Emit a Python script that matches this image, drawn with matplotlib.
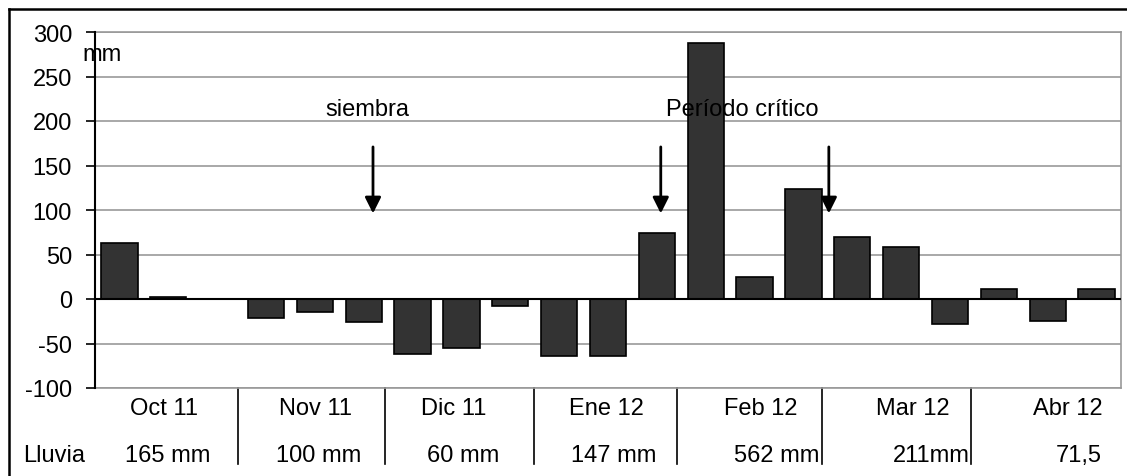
import matplotlib.pyplot as plt
from matplotlib.lines import Line2D

plt.rcParams['font.family'] = ['Liberation Sans', 'DejaVu Sans']

# decadal balance (mm), 3 per month
values = [63, 2, 0,
          -21, -15, -26,
          -62, -55, -8,
          -64, -64, 74,
          288, 25, 124,
          70, 58, -28,
          11, -25, 11]
months = ["Oct 11", "Nov 11", "Dic 11", "Ene 12", "Feb 12", "Mar 12", "Abr 12"]
rain = ["165 mm", "100 mm", "60 mm", "147 mm", "562 mm", "211mm", "71,5"]
yticks = [-100, -50, 0, 50, 100, 150, 200, 250, 300]

FS = 17
W, H = 1127, 477
fig = plt.figure(figsize=(W / 100, H / 100), dpi=100)
ax = fig.add_axes([95 / W, 1 - 389 / H, (1121 - 95) / W, (389 - 33) / H])

x = list(range(len(values)))
ax.bar(x, values, width=0.74, color="#333333", edgecolor="black", linewidth=1.2, zorder=3)

ax.set_xlim(-0.5, len(values) - 0.5)
ax.set_ylim(-100, 300)
ax.set_yticks(yticks)
ax.set_yticklabels([str(v) for v in yticks], fontsize=FS)
ax.set_xticks([])
ax.yaxis.grid(True, color="#999999", linewidth=1.2, zorder=0)
ax.axhline(0, color="black", linewidth=1.5, zorder=4)
ax.tick_params(axis="y", length=6.5, width=1.2, color="black", pad=10)

for s in ["top", "right", "bottom"]:
    ax.spines[s].set_color("#999999")
    ax.spines[s].set_linewidth(1.2)
ax.spines["left"].set_color("black")
ax.spines["left"].set_linewidth(1.5)
ax.spines["left"].set_zorder(5)

# month / rain table under the axis
month_x = [0.91, 4.02, 6.84, 9.96, 13.13, 16.24, 19.41]
rain_x = [0.99, 4.08, 7.04, 10.12, 13.46, 16.61, 19.64]
for mx, m in zip(month_x, months):
    ax.text(mx, -122, m, ha="center", va="center", fontsize=FS, clip_on=False)
for rx, r in zip(rain_x, rain):
    ax.text(rx, -175, r, ha="center", va="center", fontsize=FS, clip_on=False)
ax.text(-1.34, -175, "Lluvia", ha="center", va="center", fontsize=FS, clip_on=False)

for sx in [2.43, 5.44, 8.48, 11.42, 14.38, 17.43]:
    ax.plot([sx, sx], [-100, -185], color="black", linewidth=1.2, clip_on=False)

ax.text(-0.36, 275, "mm", ha="center", va="center", fontsize=FS, zorder=6)

# annotations
ax.text(5.07, 213, "siembra", ha="center", va="center", fontsize=FS, zorder=6)
ax.text(12.74, 213, "Período crítico", ha="center", va="center", fontsize=FS, zorder=6)
for axx in [5.19, 11.08, 14.52]:
    ax.annotate("", xy=(axx, 93), xytext=(axx, 174),
                arrowprops=dict(arrowstyle="-|>", color="black", lw=2,
                                mutation_scale=24), zorder=6)

# outer frame
fig.add_artist(Line2D([9 / W, 1], [1 - 10 / H, 1 - 10 / H], color="black", linewidth=1.8,
                      transform=fig.transFigure))
fig.add_artist(Line2D([9 / W, 9 / W], [0, 1 - 10 / H], color="black", linewidth=1.8,
                      transform=fig.transFigure))

fig.savefig("out.png", dpi=100)
